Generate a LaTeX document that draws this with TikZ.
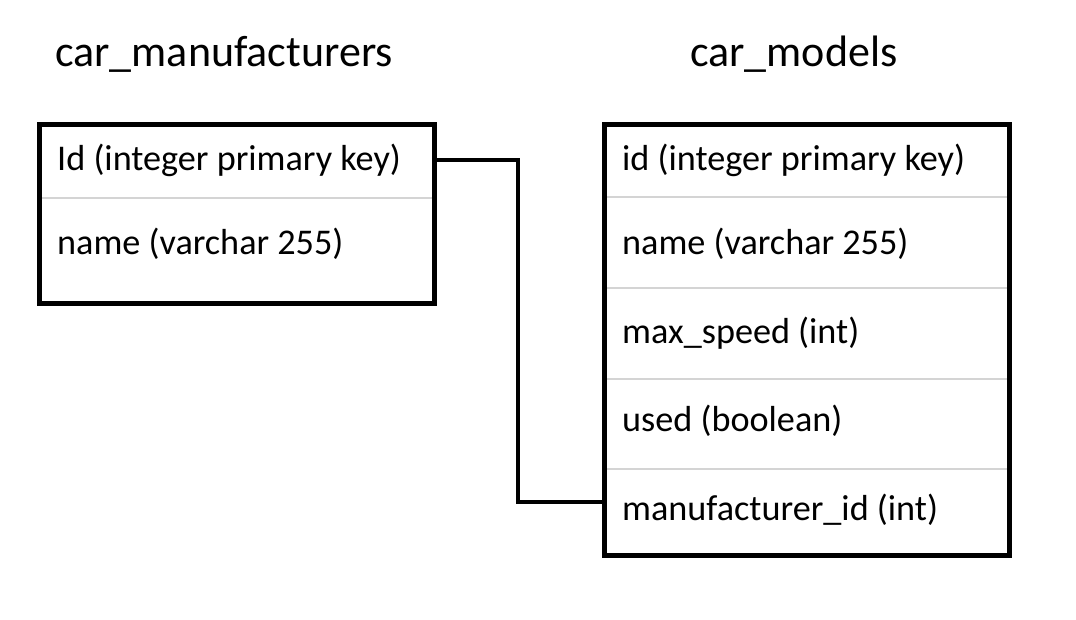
\documentclass[tikz,border=0pt]{standalone}
\usepackage{fontspec}
\setmainfont{Carlito}
\begin{document}
\begin{tikzpicture}[x=1pt,y=-1pt,
  frame/.style={draw=black,line width=5pt,inner sep=0pt},
  sep/.style={draw=black!17,line width=1.3pt},
  rowtext/.style={anchor=base west,inner sep=0pt,font=\fontsize{36.2}{42}\selectfont},
  title/.style={anchor=base west,inner sep=0pt,font=\fontsize{44}{50}\selectfont},
  conn/.style={draw=black,line width=3.5pt}]
\useasboundingbox (0,0) rectangle (1076,620);
\fill[white] (0,0) rectangle (1076,620);
% titles
\node[title] (t1) at (55,67) {car\_manufacturers};
\node[title] (t2) at (690,67) {car\_models};
% separators
\draw[sep] (42,198) -- (432,198);
\draw[sep] (607,197) -- (1007,197);
\draw[sep] (607,288) -- (1007,288);
\draw[sep] (607,379) -- (1007,379);
\draw[sep] (607,469) -- (1007,469);
% frames
\node[frame, minimum width=395pt, minimum height=179pt] (ltab) at (236.5,214.5) {};
\node[frame, minimum width=405pt, minimum height=430pt] (rtab) at (806.5,340) {};
% left rows
\node[rowtext] (lid) at (57,171) {Id (integer primary key)};
\node[rowtext] (lname) at (57,255) {name (varchar 255)};
% right rows
\node[rowtext] (rid) at (622,171) {id (integer primary key)};
\node[rowtext] (rname) at (622,255) {name (varchar 255)};
\node[rowtext] (rspeed) at (622,343) {max\_speed (int)};
\node[rowtext] (rused) at (622,431) {used (boolean)};
\node[rowtext] (rmfid) at (622,520) {manufacturer\_id (int)};
% connector
\draw[conn] (ltab.east |- 0,160) -| (518,502) -- (rtab.west |- 0,502);
\end{tikzpicture}
\end{document}
